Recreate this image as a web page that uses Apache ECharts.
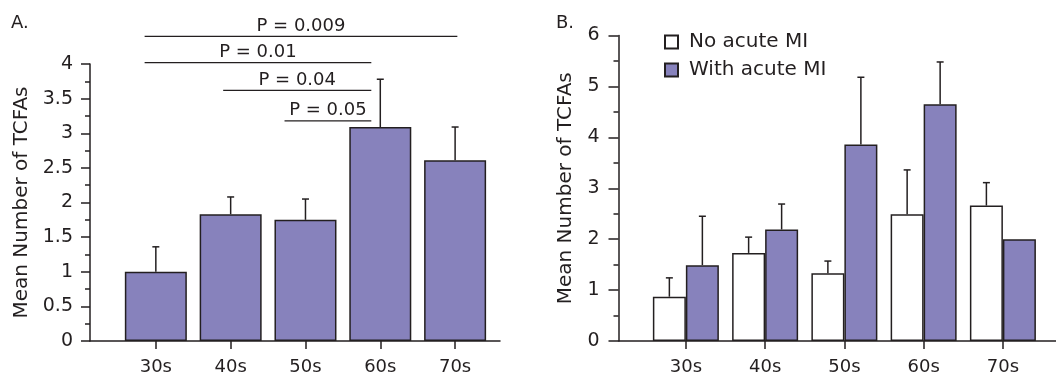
<!DOCTYPE html>
<html><head><meta charset="utf-8">
<script src="https://cdn.jsdelivr.net/npm/echarts@6/dist/echarts.min.js"></script>
<style>html,body{margin:0;padding:0;background:#fff}#c{width:1056px;height:376px}</style>
</head><body><div id="c"></div>
<script>
// ---- data ----
const categories = ['30s', '40s', '50s', '60s', '70s'];
// Panel A
const meanA = [1.0, 1.83, 1.75, 3.09, 2.61];
const errTopA = [1.36, 2.08, 2.05, 3.78, 3.09];
const sigLabels = ['P = 0.009', 'P = 0.01', 'P = 0.04', 'P = 0.05'];
const sigFrom = [0.85, 0.85, 1.9, 2.72];
const sigTo = [5.03, 3.88, 3.88, 3.88];
const sigLevel = [4.40, 4.02, 3.62, 3.18];
// Panel B
const seriesNames = ['No acute MI', 'With acute MI'];
const noMI = [0.87, 1.73, 1.33, 2.49, 2.66];
const noMIErrTop = [1.24, 2.04, 1.57, 3.36, 3.11];
const withMI = [1.49, 2.19, 3.86, 4.65, 2.0];
const withMIErrTop = [2.45, 2.69, 5.18, 5.48, null];
const yTitle = 'Mean Number of TCFAs';

// ---- style ----
const FONT = 'DejaVu Sans';
const INK = '#231f20';
const PURPLE = '#8782bc';
const catPos = categories.map((c, i) => i + 1);

function errRender(offsetPx) {
  return function (params, api) {
    const x = api.value(0), lo = api.value(1), hi = api.value(2);
    const p0 = api.coord([x, lo]), p1 = api.coord([x, hi]);
    const cx = p0[0] + offsetPx;
    const st = { stroke: INK, lineWidth: 1.5 };
    return { type: 'group', children: [
      { type: 'line', shape: { x1: cx, y1: p0[1], x2: cx, y2: p1[1] }, style: st },
      { type: 'line', shape: { x1: cx - 3.5, y1: p1[1], x2: cx + 3.5, y2: p1[1] }, style: st }
    ]};
  };
}
function errData(means, tops) {
  const out = [];
  means.forEach((m, i) => { if (tops[i] != null) out.push([catPos[i], m, tops[i]]); });
  return out;
}
function sigRender(params, api) {
  const a = api.coord([api.value(0), api.value(2)]);
  const b = api.coord([api.value(1), api.value(2)]);
  return { type: 'group', children: [
    { type: 'line', shape: { x1: a[0], y1: a[1], x2: b[0], y2: b[1] }, style: { stroke: INK, lineWidth: 1.3 } },
    { type: 'text', x: (a[0] + b[0]) / 2, y: a[1] - 10,
      style: { text: sigLabels[params.dataIndex], fill: INK, font: '18px "' + FONT + '"', align: 'center', verticalAlign: 'middle' } }
  ]};
}

function xAxisCfg(gridIndex, min, max) {
  return {
    type: 'value', gridIndex, min, max,
    axisLine: { show: true, lineStyle: { color: INK, width: 1.5 } },
    axisTick: { show: true, length: 8, customValues: catPos, lineStyle: { color: INK, width: 1.5 } },
    axisLabel: { customValues: catPos, margin: 17, color: INK, fontFamily: FONT, fontSize: 18,
      formatter: v => categories[Math.round(v) - 1] || '' },
    splitLine: { show: false }
  };
}
function yAxisCfg(gridIndex, max, interval, tickLen, labelMargin, nameGap) {
  return {
    type: 'value', gridIndex, min: 0, max, interval,
    name: yTitle, nameLocation: 'middle', nameGap,
    nameTextStyle: { color: INK, fontFamily: FONT, fontSize: 20 },
    axisLine: { show: true, lineStyle: { color: INK, width: 1.5 } },
    axisTick: { show: true, length: tickLen, lineStyle: { color: INK, width: 1.5 } },
    minorTick: { show: true, splitNumber: 2, length: 5, lineStyle: { color: INK, width: 1.5 } },
    axisLabel: { margin: labelMargin, color: INK, fontFamily: FONT, fontSize: 19 },
    splitLine: { show: false }, minorSplitLine: { show: false }
  };
}

const barBorder = { borderColor: INK, borderWidth: 1.5 };

const option = {
  animation: false,
  backgroundColor: '#fff',
  textStyle: { fontFamily: FONT },
  grid: [
    { left: 90, top: 64, width: 410, height: 277, outerBoundsMode: 'none' },
    { left: 618.5, top: 35.5, width: 437.5, height: 305.5, outerBoundsMode: 'none' }
  ],
  xAxis: [xAxisCfg(0, 0.12, 5.6), xAxisCfg(1, 0.15, 5.67)],
  yAxis: [yAxisCfg(0, 4, 0.5, 9, 17, 58), yAxisCfg(1, 6, 1, 10, 19, 43)],
  legend: {
    data: seriesNames, orient: 'vertical', left: 659, top: 27,
    icon: 'rect', itemWidth: 13, itemHeight: 13, itemGap: 8,
    textStyle: { color: INK, fontFamily: FONT, fontSize: 20, lineHeight: 18, padding: [0, 0, 0, 6] },
    selectedMode: false
  },
  graphic: [
    { type: 'text', left: 11, top: 14, style: { text: 'A.', fill: INK, font: '18px "' + FONT + '"' } },
    { type: 'text', left: 556, top: 14, style: { text: 'B.', fill: INK, font: '18px "' + FONT + '"' } }
  ],
  series: [
    { type: 'bar', name: 'A', xAxisIndex: 0, yAxisIndex: 0, barWidth: 62,
      itemStyle: Object.assign({ color: PURPLE }, barBorder),
      data: meanA.map((v, i) => [catPos[i], v]) },
    { type: 'custom', name: 'errA', xAxisIndex: 0, yAxisIndex: 0, renderItem: errRender(0),
      encode: { x: 0, y: [1, 2] }, data: errData(meanA, errTopA) },
    { type: 'custom', name: 'sig', xAxisIndex: 0, yAxisIndex: 0, renderItem: sigRender, clip: false,
      encode: { x: [0, 1], y: 2 }, data: sigLabels.map((s, i) => [sigFrom[i], sigTo[i], sigLevel[i]]) },
    { type: 'bar', name: seriesNames[0], xAxisIndex: 1, yAxisIndex: 1, barWidth: 33, barGap: '0%',
      itemStyle: Object.assign({ color: '#ffffff' }, barBorder),
      data: noMI.map((v, i) => [catPos[i], v]) },
    { type: 'bar', name: seriesNames[1], xAxisIndex: 1, yAxisIndex: 1, barWidth: 33, barGap: '0%',
      itemStyle: Object.assign({ color: PURPLE }, barBorder),
      data: withMI.map((v, i) => [catPos[i], v]) },
    { type: 'custom', name: 'errB0', xAxisIndex: 1, yAxisIndex: 1, renderItem: errRender(-16.5),
      encode: { x: 0, y: [1, 2] }, data: errData(noMI, noMIErrTop) },
    { type: 'custom', name: 'errB1', xAxisIndex: 1, yAxisIndex: 1, renderItem: errRender(16.5),
      encode: { x: 0, y: [1, 2] }, data: errData(withMI, withMIErrTop) }
  ]
};
const chart = echarts.init(document.getElementById('c'), null, { renderer: 'canvas' });
chart.setOption(option);
</script>
</body></html>
